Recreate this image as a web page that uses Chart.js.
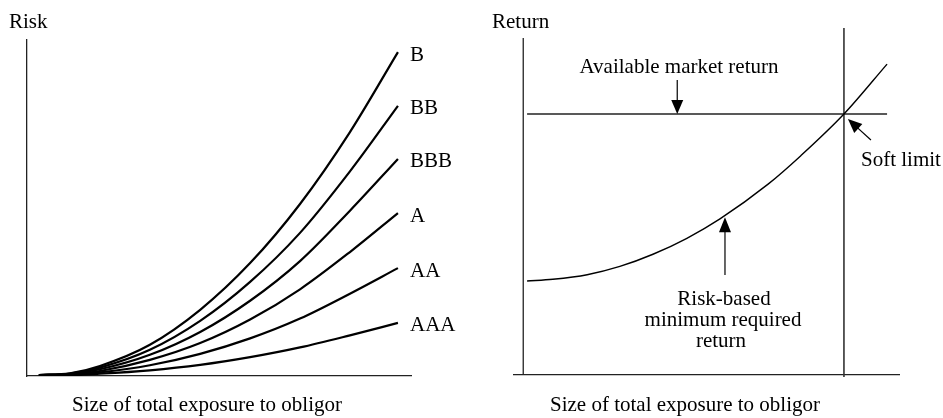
<!DOCTYPE html>
<html>
<head>
<meta charset="utf-8">
<script src="https://cdn.jsdelivr.net/npm/chart.js@4.4.1/dist/chart.umd.min.js"></script>
<style>
  body { margin: 0; background: #fff; }
  #wrap { position: relative; width: 943px; height: 418px; }
  canvas { position: absolute; top: 0; }
</style>
</head>
<body>
<div id="wrap">
  <canvas id="riskChart" width="470" height="418" style="left:0"></canvas>
  <canvas id="returnChart" width="473" height="418" style="left:470px"></canvas>
</div>
<script>
// Dados do painel esquerdo (risco por rating)
const exposure = [3.1, 11.2, 19, 32, 45.1, 58.1, 71.1, 84.1, 96.6];
const ratings = ['B', 'BB', 'BBB', 'A', 'AA', 'AAA'];
const riskB   = [0.3, 0.8, 3.0, 9.3, 19.7, 33.6, 51.2, 72.6, 96.4];
const riskBB  = [0.3, 0.7, 2.5, 7.8, 16.4, 28.0, 42.6, 60.9, 80.4];
const riskBBB = [0.3, 0.6, 2.0, 6.3, 13.1, 22.4, 34.2, 49.2, 64.6];
const riskA   = [0.3, 0.5, 1.5, 4.8, 9.8, 16.8, 25.8, 36.9, 48.5];
const riskAA  = [0.3, 0.4, 1.1, 3.2, 6.6, 11.2, 17.1, 24.5, 32.1];
const riskAAA = [0.3, 0.3, 0.7, 1.7, 3.3, 5.6, 8.5, 12.1, 15.8];

// Dados do painel direito (retorno)
const returnX = [1, 7.7, 16.6, 25.1, 33.7, 42.5, 51.1, 63.6, 72.1, 83.3, 94.5];
const requiredReturn = [27.1, 27.6, 28.9, 31.3, 34.8, 39.4, 45.0, 55.0, 63.2, 75.2, 89.6];
const marketReturn = 75.2;
const marketRange = [1, 94.5];
const softLimit = 83.3;

const FONT = '21px "Liberation Serif", "Times New Roman", serif';

// Desenha uma seta com ponta preenchida
function drawArrow(ctx, x1, y1, x2, y2, headLen, headW) {
  const a = Math.atan2(y2 - y1, x2 - x1);
  const c = Math.cos(a), s = Math.sin(a);
  ctx.beginPath();
  ctx.moveTo(x1, y1);
  ctx.lineTo(x2 - c * headLen * 0.8, y2 - s * headLen * 0.8);
  ctx.stroke();
  ctx.beginPath();
  ctx.moveTo(x2, y2);
  ctx.lineTo(x2 - c * headLen + s * headW / 2, y2 - s * headLen - c * headW / 2);
  ctx.lineTo(x2 - c * headLen - s * headW / 2, y2 - s * headLen + c * headW / 2);
  ctx.closePath();
  ctx.fill();
}

function toPoints(xs, ys) {
  return xs.map((x, i) => ({ x: x, y: ys[i] }));
}

function hiddenScale(min, max, showBorder) {
  return {
    type: 'linear', min: min, max: max,
    ticks: { display: false },
    grid: { display: false, drawTicks: false },
    border: { display: showBorder, color: '#222', width: 1.3 }
  };
}

const riskSeries = [riskB, riskBB, riskBBB, riskA, riskAA, riskAAA];

const riskLabels = {
  id: 'riskLabels',
  afterDraw(chart) {
    const ctx = chart.ctx;
    const xs = chart.scales.x, ys = chart.scales.y;
    ctx.save();
    ctx.fillStyle = '#000';
    ctx.font = FONT;
    ctx.textBaseline = 'middle';
    ctx.textAlign = 'left';
    ctx.fillText('Risk', 9, 22);
    riskSeries.forEach((vals, i) => {
      const last = vals.length - 1;
      ctx.fillText(ratings[i], xs.right - 1, ys.getPixelForValue(vals[last]) + 3);
    });
    ctx.textAlign = 'center';
    ctx.fillText('Size of total exposure to obligor', 207, 405);
    ctx.restore();
  }
};

new Chart(document.getElementById('riskChart'), {
  type: 'line',
  data: {
    datasets: riskSeries.map((vals, i) => ({
      label: ratings[i],
      data: toPoints(exposure, vals),
      borderColor: '#000',
      borderWidth: 2.2,
      pointRadius: 0,
      fill: false,
      cubicInterpolationMode: 'monotone'
    }))
  },
  options: {
    responsive: false,
    animation: false,
    devicePixelRatio: 1,
    layout: { padding: { left: 27, right: 59, top: 40, bottom: 42 } },
    plugins: { legend: { display: false }, tooltip: { enabled: false } },
    scales: { x: hiddenScale(0, 100, true), y: hiddenScale(0, 100, true) }
  },
  plugins: [riskLabels]
});

const returnLabels = {
  id: 'returnLabels',
  afterDraw(chart) {
    const ctx = chart.ctx;
    const xs = chart.scales.x, ys = chart.scales.y;
    ctx.save();
    // eixo vertical
    ctx.strokeStyle = '#222';
    ctx.lineWidth = 1.3;
    const x0 = xs.getPixelForValue(0);
    ctx.beginPath();
    ctx.moveTo(x0, 38);
    ctx.lineTo(x0, ys.bottom);
    ctx.stroke();

    ctx.fillStyle = '#000';
    ctx.strokeStyle = '#000';
    ctx.lineWidth = 1.2;
    ctx.font = FONT;
    ctx.textBaseline = 'middle';
    ctx.textAlign = 'left';
    ctx.fillText('Return', 22, 22);

    ctx.textAlign = 'center';
    ctx.fillText('Available market return', 209, 67);
    const ax = xs.getPixelForValue(40);
    drawArrow(ctx, ax, 80, ax, ys.getPixelForValue(marketReturn), 14, 12);

    const sx = xs.getPixelForValue(softLimit), sy = ys.getPixelForValue(marketReturn);
    drawArrow(ctx, sx + 27, sy + 26, sx + 4, sy + 5, 14, 12);
    ctx.textAlign = 'left';
    ctx.fillText('Soft limit', 391, 160);

    ctx.textAlign = 'center';
    ctx.fillText('Risk-based', 254, 299);
    ctx.fillText('minimum required', 253, 320);
    ctx.fillText('return', 251, 341);
    const rx = xs.getPixelForValue(52.4);
    drawArrow(ctx, rx, 275, rx, ys.getPixelForValue(46.3) + 3, 15, 12);

    ctx.fillText('Size of total exposure to obligor', 215, 405);
    ctx.restore();
  }
};

new Chart(document.getElementById('returnChart'), {
  type: 'line',
  data: {
    datasets: [
      {
        label: 'Risk-based minimum required return',
        data: toPoints(returnX, requiredReturn),
        borderColor: '#000',
        borderWidth: 1.4,
        pointRadius: 0,
        fill: false,
        cubicInterpolationMode: 'monotone'
      },
      {
        label: 'Available market return',
        data: toPoints(marketRange, [marketReturn, marketReturn]),
        borderColor: '#222',
        borderWidth: 1.4,
        pointRadius: 0,
        fill: false
      },
      {
        label: 'Soft limit',
        data: [{ x: softLimit, y: -0.6 }, { x: softLimit, y: 100 }],
        borderColor: '#333',
        borderWidth: 1.6,
        pointRadius: 0,
        fill: false,
        clip: false
      }
    ]
  },
  options: {
    responsive: false,
    animation: false,
    devicePixelRatio: 1,
    layout: { padding: { left: 44, right: 44, top: 28, bottom: 43 } },
    plugins: { legend: { display: false }, tooltip: { enabled: false } },
    scales: { x: hiddenScale(-2.4, 97.6, true), y: hiddenScale(0, 100, false) }
  },
  plugins: [returnLabels]
});
</script>
</body>
</html>
